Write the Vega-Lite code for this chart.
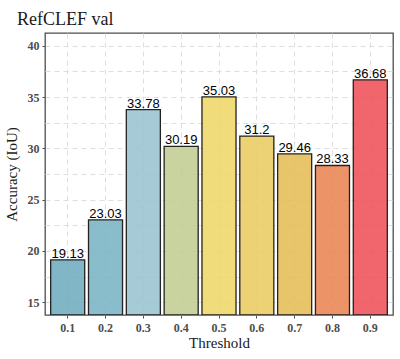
{
  "$schema": "https://vega.github.io/schema/vega-lite/v6.json",
  "autosize": "none",
  "width": 348,
  "height": 282,
  "padding": {"left": 45, "top": 33, "right": 7, "bottom": 44},
  "background": "white",
  "title": {"text": "RefCLEF val", "anchor": "start", "frame": "group", "dx": -28, "offset": -14, "baseline": "bottom", "font": "Liberation Serif", "fontSize": 18, "fontWeight": "normal", "color": "#1a1a1a"},
  "data": {"values": [
    {"t": "0.1", "acc": 19.13, "lab": "19.13"},
    {"t": "0.2", "acc": 23.03, "lab": "23.03"},
    {"t": "0.3", "acc": 33.78, "lab": "33.78"},
    {"t": "0.4", "acc": 30.19, "lab": "30.19"},
    {"t": "0.5", "acc": 35.03, "lab": "35.03"},
    {"t": "0.6", "acc": 31.2, "lab": "31.2"},
    {"t": "0.7", "acc": 29.46, "lab": "29.46"},
    {"t": "0.8", "acc": 28.33, "lab": "28.33"},
    {"t": "0.9", "acc": 36.68, "lab": "36.68"}
  ]},
  "config": {
    "view": {"stroke": "#4d4d4d", "strokeWidth": 1.3},
    "axis": {
      "labelFont": "Liberation Serif", "labelFontWeight": "bold", "labelFontSize": 12, "labelColor": "#4d4d4d",
      "titleFont": "Liberation Serif", "titleFontWeight": "normal", "titleFontSize": 15, "titleColor": "#1a1a1a",
      "tickColor": "#4d4d4d", "tickSize": 3, "domain": false,
      "gridColor": "#dedede", "gridDash": [5, 4], "gridWidth": 1
    }
  },
  "encoding": {
    "x": {"field": "t", "type": "nominal", "title": "Threshold",
      "scale": {"paddingInner": 0.1, "paddingOuter": 0.15},
      "axis": {"labelAngle": 0, "bandPosition": 0.5, "grid": true, "labelPadding": 4, "titlePadding": 2}},
    "y": {"field": "acc", "type": "quantitative", "title": "Accuracy (IoU)",
      "scale": {"domain": [13.75, 41.25], "nice": false, "zero": false},
      "axis": {"values": [15, 17.5, 20, 22.5, 25, 27.5, 30, 32.5, 35, 37.5, 40],
        "labelExpr": "datum.value % 5 == 0 ? datum.label : ''",
        "tickOpacity": {"condition": {"test": "datum.value % 5 != 0", "value": 0}, "value": 1},
        "labelPadding": 3, "titlePadding": 8}}
  },
  "layer": [
    {"mark": {"type": "bar", "stroke": "#222222", "strokeWidth": 1.3, "fillOpacity": 0.88, "clip": true},
     "encoding": {
       "y2": {"datum": 13.75},
       "color": {"field": "t", "type": "nominal", "legend": null,
         "scale": {"domain": ["0.1","0.2","0.3","0.4","0.5","0.6","0.7","0.8","0.9"],
           "range": ["#6eacbe","#7ab4c4","#9ac4d0","#c1cd92","#eed768","#e9cb62","#e5bd57","#e98553","#ee5158"]}}
     }},
    {"mark": {"type": "text", "baseline": "alphabetic", "dy": -2, "font": "Liberation Sans", "fontSize": 13, "color": "black"},
     "encoding": {"text": {"field": "lab"}}}
  ]
}
